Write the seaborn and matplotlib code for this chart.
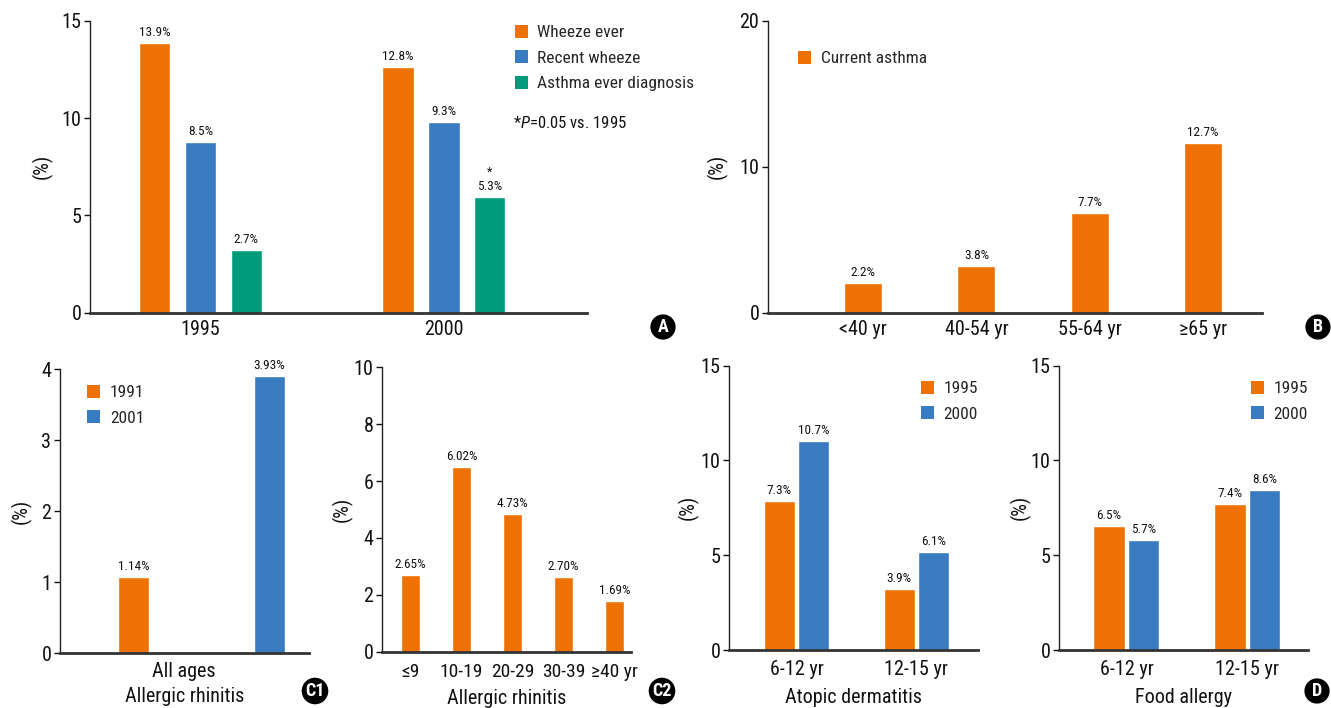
import numpy as np
import pandas as pd
import seaborn as sns
import matplotlib.pyplot as plt
from matplotlib.patches import Patch
from matplotlib import font_manager

# ---- data (bar heights, labels as printed) ----
# A: wheeze / asthma in children
years_a = ["1995", "2000"]
measures_a = ["Wheeze ever", "Recent wheeze", "Asthma ever diagnosis"]
wheeze_ever = [13.85, 12.62]
recent_wheeze = [8.77, 9.79]
asthma_dx = [3.22, 5.94]
wheeze_ever_lbl = ["13.9%", "12.8%"]
recent_wheeze_lbl = ["8.5%", "9.3%"]
asthma_dx_lbl = ["2.7%", "5.3%"]

# B: current asthma by age
ages_b = ["<40 yr", "40-54 yr", "55-64 yr", "\u226565 yr"]
current_asthma = [2.03, 3.20, 6.83, 11.62]
current_asthma_lbl = ["2.2%", "3.8%", "7.7%", "12.7%"]

# C1: allergic rhinitis, all ages
years_c1 = ["1991", "2001"]
rhinitis_all = [1.075, 3.905]
rhinitis_all_lbl = ["1.14%", "3.93%"]

# C2: allergic rhinitis by age
ages_c2 = ["\u22649", "10-19", "20-29", "30-39", "\u226540 yr"]
rhinitis_age = [2.70, 6.49, 4.84, 2.63, 1.78]
rhinitis_age_lbl = ["2.65%", "6.02%", "4.73%", "2.70%", "1.69%"]

# D: atopic dermatitis and food allergy
ages_d = ["6-12 yr", "12-15 yr"]
years_d = ["1995", "2000"]
atopic_1995 = [7.86, 3.22]
atopic_2000 = [11.03, 5.17]
atopic_1995_lbl = ["7.3%", "3.9%"]
atopic_2000_lbl = ["10.7%", "6.1%"]
food_1995 = [6.54, 7.70]
food_2000 = [5.80, 8.44]
food_1995_lbl = ["6.5%", "7.4%"]
food_2000_lbl = ["5.7%", "8.6%"]

ORANGE = "#ED7203"
BLUE = "#387BC1"
GREEN = "#009B7A"

# pick the narrowest font that is actually there
installed = {f.name for f in font_manager.fontManager.ttflist}
FONT = next(f for f in ["Roboto Condensed", "Liberation Sans Narrow", "Roboto",
                        "Liberation Sans", "DejaVu Sans"] if f in installed)

sns.set_theme(style="white")
plt.rcParams["font.family"] = [FONT, "DejaVu Sans"]
plt.rcParams["mathtext.fontset"] = "custom"
plt.rcParams["mathtext.it"] = FONT + ":italic"
plt.rcParams["mathtext.rm"] = FONT

W, H = 1331, 708
fig = plt.figure(figsize=(W / 100, H / 100), dpi=100)


def add_ax(l, r, t, b):
    return fig.add_axes([l / W, 1 - b / H, (r - l) / W, (b - t) / H])


def style(ax, ymax, step, xlim, ylab_x, xpad=5):
    ax.set_ylim(0, ymax)
    ax.set_yticks(np.arange(0, ymax + 0.01, step))
    ax.set_xlim(*xlim)
    for s in ["top", "right"]:
        ax.spines[s].set_visible(False)
    ax.spines["left"].set_linewidth(1.0)
    ax.spines["left"].set_color("#222222")
    ax.spines["bottom"].set_linewidth(2.0)
    ax.spines["bottom"].set_color("#333333")
    ax.tick_params(axis="y", length=4, width=1, pad=2, labelsize=14.5, colors="#111111", left=True)
    ax.tick_params(axis="x", length=0, pad=xpad, labelsize=14.5, colors="#111111")
    ax.set_xlabel("")
    ax.set_ylabel("(%)", fontsize=14.5, color="#111111")
    ax.yaxis.set_label_coords(ylab_x, 0.5)
    ax.yaxis.label.set_verticalalignment("center")


def add_labels(ax, container, labels):
    ax.bar_label(container, labels=labels, padding=3, fontsize=9.5, color="#111111")


def add_legend(ax, names, colors, x, y):
    handles = [Patch(facecolor=c, edgecolor="none", label=n) for n, c in zip(names, colors)]
    ax.legend(handles=handles, loc="upper left", bbox_to_anchor=(x / W, 1 - y / H),
              bbox_transform=fig.transFigure, frameon=False, fontsize=12.5,
              handlelength=0.75, handleheight=0.75, handletextpad=0.55,
              labelspacing=0.58, borderpad=0, borderaxespad=0)


def tag(x, y, s):
    fig.text(x / W, 1 - y / H, s, ha="center", va="center", color="white",
             fontsize=13, fontweight="bold",
             bbox=dict(boxstyle="circle,pad=0.2", fc="black", ec="none"))


# ---- A ----
ax = add_ax(89.7, 586.8, 20.7, 312.7)
df_a = pd.DataFrame({
    "year": years_a * 3,
    "measure": np.repeat(measures_a, 2),
    "value": wheeze_ever + recent_wheeze + asthma_dx,
})
sns.barplot(data=df_a, x="year", y="value", hue="measure", hue_order=measures_a,
            palette=[ORANGE, BLUE, GREEN], width=0.564, gap=0.314,
            saturation=1, legend=False, ax=ax)
for cont, lbl in zip(ax.containers, [wheeze_ever_lbl, recent_wheeze_lbl, asthma_dx_lbl]):
    add_labels(ax, cont, lbl)
star_bar = ax.containers[2][1]
ax.annotate("*", (star_bar.get_x() + star_bar.get_width() / 2, star_bar.get_height()),
            xytext=(0, 13), textcoords="offset points", ha="center", va="bottom",
            fontsize=9, color="#111111")
style(ax, 15, 5, (-0.455, 1.587), -0.095)
add_legend(ax, measures_a, [ORANGE, BLUE, GREEN], 514.6, 25)
fig.text(512.8 / W, 1 - 123.3 / H, "*$P$=0.05 vs. 1995", ha="left", va="center",
         fontsize=12, color="#111111")
tag(663, 327, "A")

# ---- B ----
ax = add_ax(767.7, 1262.4, 20.7, 312.7)
sns.barplot(x=ages_b, y=current_asthma, color=ORANGE, saturation=1, width=0.335, ax=ax)
add_labels(ax, ax.containers[0], current_asthma_lbl)
style(ax, 20, 10, (-0.842, 3.524), -0.103)
add_legend(ax, ["Current asthma"], [ORANGE], 798, 51)
tag(1318, 327, "B")

# ---- C1 ----
ax = add_ax(59.8, 308.8, 369.3, 653.3)
sns.barplot(x=years_c1, y=rhinitis_all, hue=years_c1, palette=[ORANGE, BLUE],
            saturation=1, width=0.229, legend=False, ax=ax)
for cont, lbl in zip(ax.containers, rhinitis_all_lbl):
    add_labels(ax, cont, [lbl])
style(ax, 4, 1, (-0.543, 1.289), -0.153)
ax.set_xticks([])
ax.set_xlabel("All ages\nAllergic rhinitis", fontsize=14.5, color="#111111", labelpad=6,
              linespacing=1.45)
add_legend(ax, years_c1, [ORANGE, BLUE], 87.2, 385)
tag(315, 691, "C1")

# ---- C2 ----
ax = add_ax(381.6, 631.0, 367.3, 651.7)
sns.barplot(x=ages_c2, y=rhinitis_age, color=ORANGE, saturation=1, width=0.365, ax=ax)
add_labels(ax, ax.containers[0], rhinitis_age_lbl)
style(ax, 10, 2, (-0.567, 4.32), -0.156, xpad=8)
ax.tick_params(axis="x", labelsize=14)
ax.set_xlabel("Allergic rhinitis", fontsize=14.5, color="#111111", labelpad=6)
tag(662, 691, "C2")

# ---- D: atopic dermatitis and food allergy ----
for (l, r, ylx, v95, v00, l95, l00, xl, legx, lim) in [
    (729.0, 977.6, -0.164, atopic_1995, atopic_2000, atopic_1995_lbl, atopic_2000_lbl,
     "Atopic dermatitis", 920.8, (-0.563, 1.51)),
    (1058.6, 1307.6, -0.153, food_1995, food_2000, food_1995_lbl, food_2000_lbl,
     "Food allergy", 1250.8, (-0.561, 1.497)),
]:
    ax = add_ax(l, r, 365.7, 650.0)
    df_d = pd.DataFrame({
        "age": ages_d * 2,
        "year": np.repeat(years_d, 2),
        "value": v95 + v00,
    })
    sns.barplot(data=df_d, x="age", y="value", hue="year", hue_order=years_d,
                palette=[ORANGE, BLUE], saturation=1, width=0.574, gap=0.098,
                legend=False, ax=ax)
    add_labels(ax, ax.containers[0], l95)
    add_labels(ax, ax.containers[1], l00)
    style(ax, 15, 5, lim, ylx, xpad=7)
    ax.set_xlabel(xl, fontsize=14.5, color="#111111", labelpad=7)
    add_legend(ax, years_d, [ORANGE, BLUE], legx, 381)
tag(1317, 691, "D")

fig.savefig("out.png", dpi=100)
